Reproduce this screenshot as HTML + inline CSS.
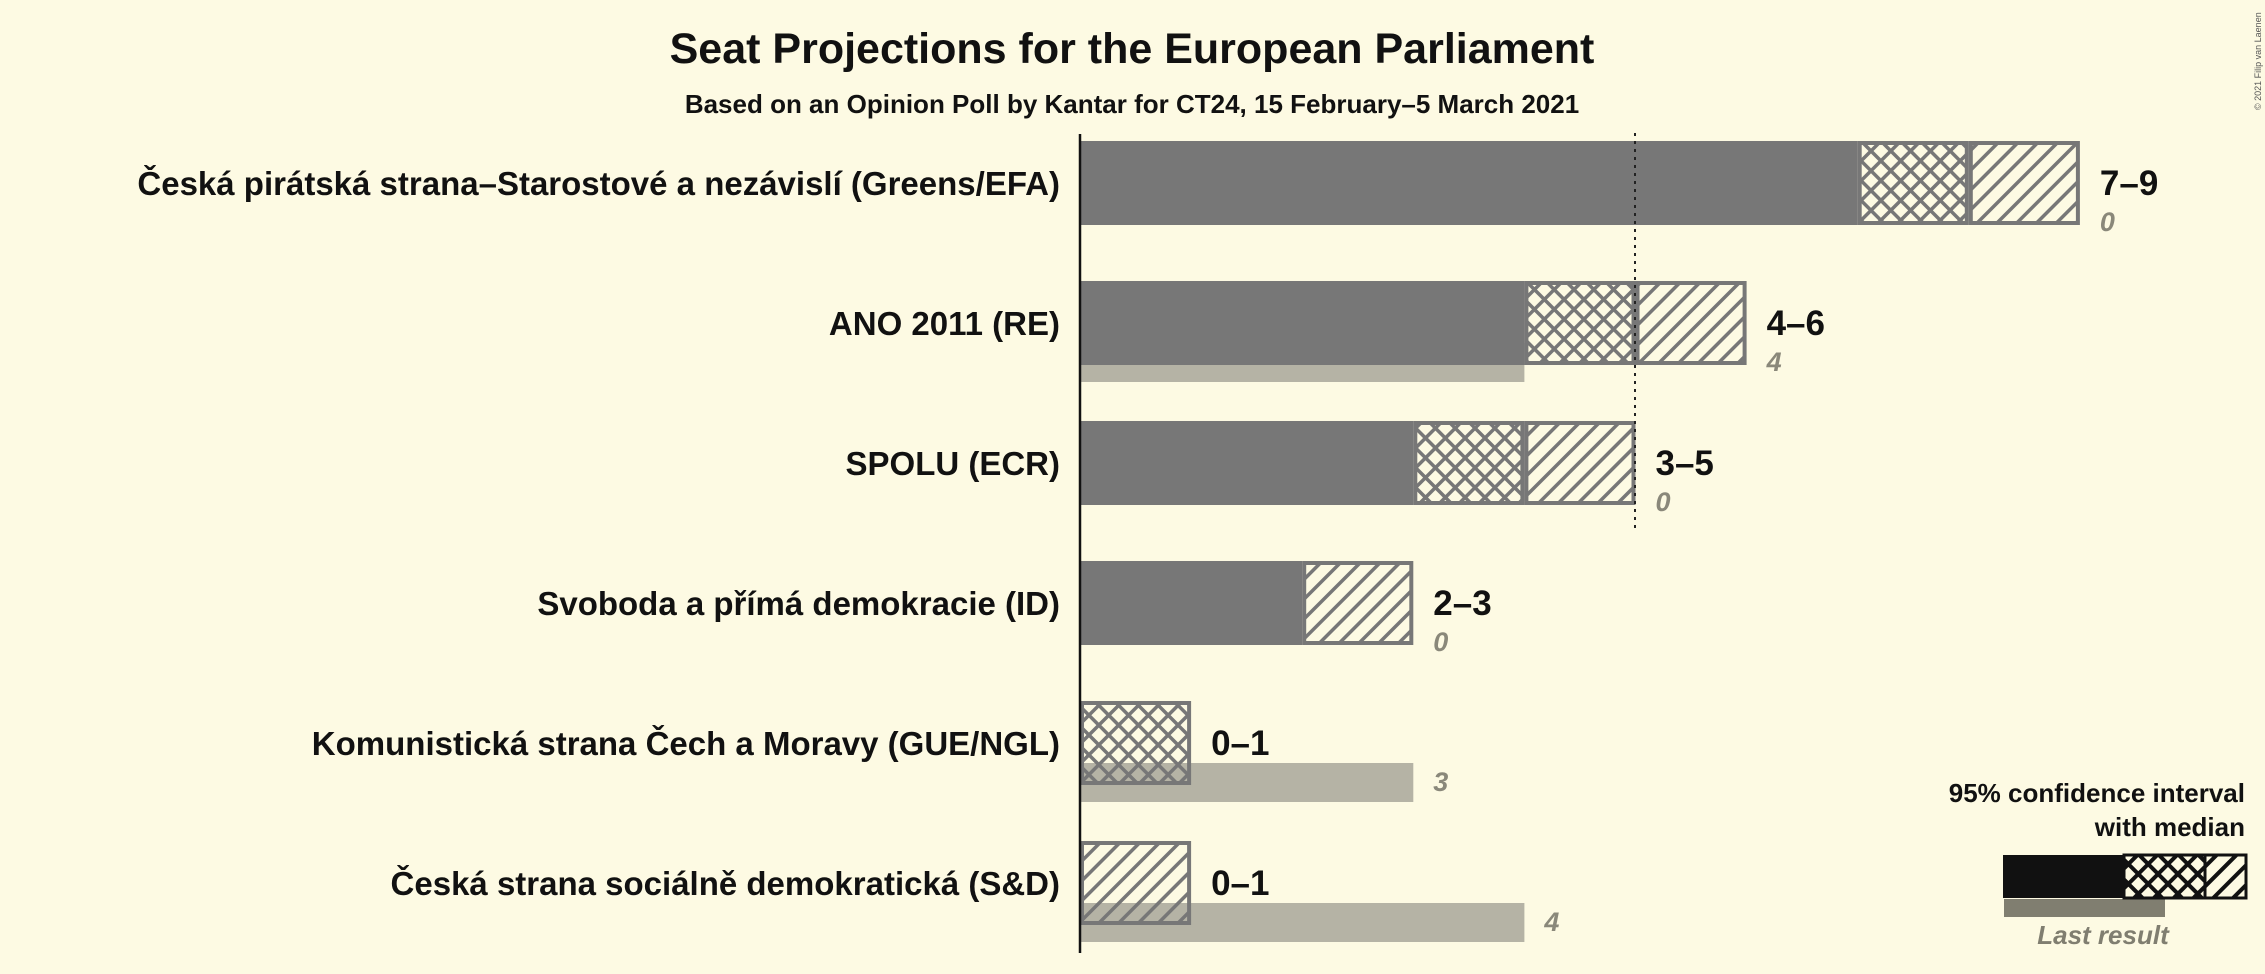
<!DOCTYPE html>
<html><head><meta charset="utf-8"><style>
html,body{margin:0;padding:0;background:#fdfae3;}
svg{display:block;font-family:"Liberation Sans",sans-serif;}
</style></head><body>
<svg id="chart" width="2265" height="974" viewBox="0 0 2265 974" xmlns="http://www.w3.org/2000/svg">
<defs>
<pattern id="diag" patternUnits="userSpaceOnUse" width="14" height="14" patternTransform="rotate(45)">
<rect x="0" y="0" width="3.5" height="14" fill="#777"/>
</pattern>
<pattern id="cross" patternUnits="userSpaceOnUse" width="14" height="14" patternTransform="rotate(45)">
<rect x="0" y="0" width="3.5" height="14" fill="#777"/><rect x="0" y="0" width="14" height="3.5" fill="#777"/>
</pattern>
<pattern id="diagK" patternUnits="userSpaceOnUse" width="14" height="14" patternTransform="rotate(45)">
<rect x="0" y="0" width="4" height="14" fill="#111"/>
</pattern>
<pattern id="crossK" patternUnits="userSpaceOnUse" width="14" height="14" patternTransform="rotate(45)">
<rect x="0" y="0" width="4" height="14" fill="#111"/><rect x="0" y="0" width="14" height="4" fill="#111"/>
</pattern>
</defs>
<text x="1132" y="63" text-anchor="middle" font-size="43" font-weight="bold" fill="#111">Seat Projections for the European Parliament</text>
<text x="1132" y="113" text-anchor="middle" font-size="26" font-weight="bold" fill="#111">Based on an Opinion Poll by Kantar for CT24, 15 February–5 March 2021</text>
<text transform="translate(2261,110) rotate(-90)" font-size="9" fill="#555">© 2021 Filip van Laenen</text>
<g id="plot"></g>
<line x1="1635" y1="133" x2="1635" y2="532" stroke="#222" stroke-width="2" stroke-dasharray="3,5"/>
<line x1="1080" y1="134" x2="1080" y2="953" stroke="#111" stroke-width="2.5"/>
<g>
<text x="2245" y="802" text-anchor="end" font-size="26" font-weight="bold" fill="#111">95% confidence interval</text>
<text x="2245" y="836" text-anchor="end" font-size="26" font-weight="bold" fill="#111">with median</text>
<rect x="2004" y="899" width="161" height="18" fill="#807e70"/>
<rect x="2003" y="855" width="121" height="43" fill="#111"/>
<rect x="2124" y="855" width="81" height="43" fill="url(#crossK)" stroke="#111" stroke-width="3"/>
<rect x="2205" y="855" width="41" height="43" fill="url(#diagK)" stroke="#111" stroke-width="3"/>
<text x="2103" y="944" text-anchor="middle" font-size="26" font-style="italic" font-weight="bold" fill="#807e70">Last result</text>
</g>
</svg>
<script>
const parties = ["Česká pirátská strana–Starostové a nezávislí (Greens/EFA)","ANO 2011 (RE)","SPOLU (ECR)","Svoboda a přímá demokracie (ID)","Komunistická strana Čech a Moravy (GUE/NGL)","Česká strana sociálně demokratická (S&D)"];
const lows = [7,4,3,2,0,0];
const medians = [8,5,4,2,1,0];
const highs = [9,6,5,3,1,1];
const lastResults = [0,4,0,0,3,4];
const rangeLabels = ["7–9","4–6","3–5","2–3","0–1","0–1"];

const NS="http://www.w3.org/2000/svg";
const x0=1080, unit=111.1, rowTop=183, rowStep=140, barH=84;
const xs=v=>x0+v*unit;
const yc=i=>rowTop+i*rowStep;
const g=document.getElementById('plot');
function mk(tag,attrs){const e=document.createElementNS(NS,tag);for(const k in attrs)e.setAttribute(k,attrs[k]);g.appendChild(e);return e;}
parties.forEach((p,i)=>{
  const c=yc(i);
  const t=mk('text',{x:1060,y:c+12,'text-anchor':'end','font-size':33,'font-weight':'bold',fill:'#111'});
  t.textContent=p;
  
  
  if(lastResults[i]>0){
    const lr=mk('rect',{x:x0,y:c+20,width:xs(lastResults[i])-x0,height:39,fill:'#b5b3a5'});
    
    
  }
  if(lows[i]>0){
    const s=mk('rect',{x:x0,y:c-barH/2,width:xs(lows[i])-x0,height:barH,fill:'#777'});
    
    
  }
  if(medians[i]>lows[i]){
    const r=mk('rect',{x:xs(lows[i])+2,y:c-barH/2+2,width:xs(medians[i])-xs(lows[i])-4,height:barH-4,fill:'url(#cross)',stroke:'#777','stroke-width':4});
    
    
  }
  if(highs[i]>medians[i]){
    const r=mk('rect',{x:xs(medians[i])+2,y:c-barH/2+2,width:xs(highs[i])-xs(medians[i])-4,height:barH-4,fill:'url(#diag)',stroke:'#777','stroke-width':4});
    
    
  }
  const rl=mk('text',{x:xs(highs[i])+20,y:c+12,'font-size':35,'font-weight':'bold',fill:'#111'});
  rl.textContent=rangeLabels[i];
  
  
  const ll=mk('text',{x:xs(Math.max(highs[i],lastResults[i]))+20,y:c+48,'font-size':27,'font-style':'italic','font-weight':'bold',fill:'#8a887a'});
  ll.textContent=String(lastResults[i]);
  
  
});
</script>
</body></html>
